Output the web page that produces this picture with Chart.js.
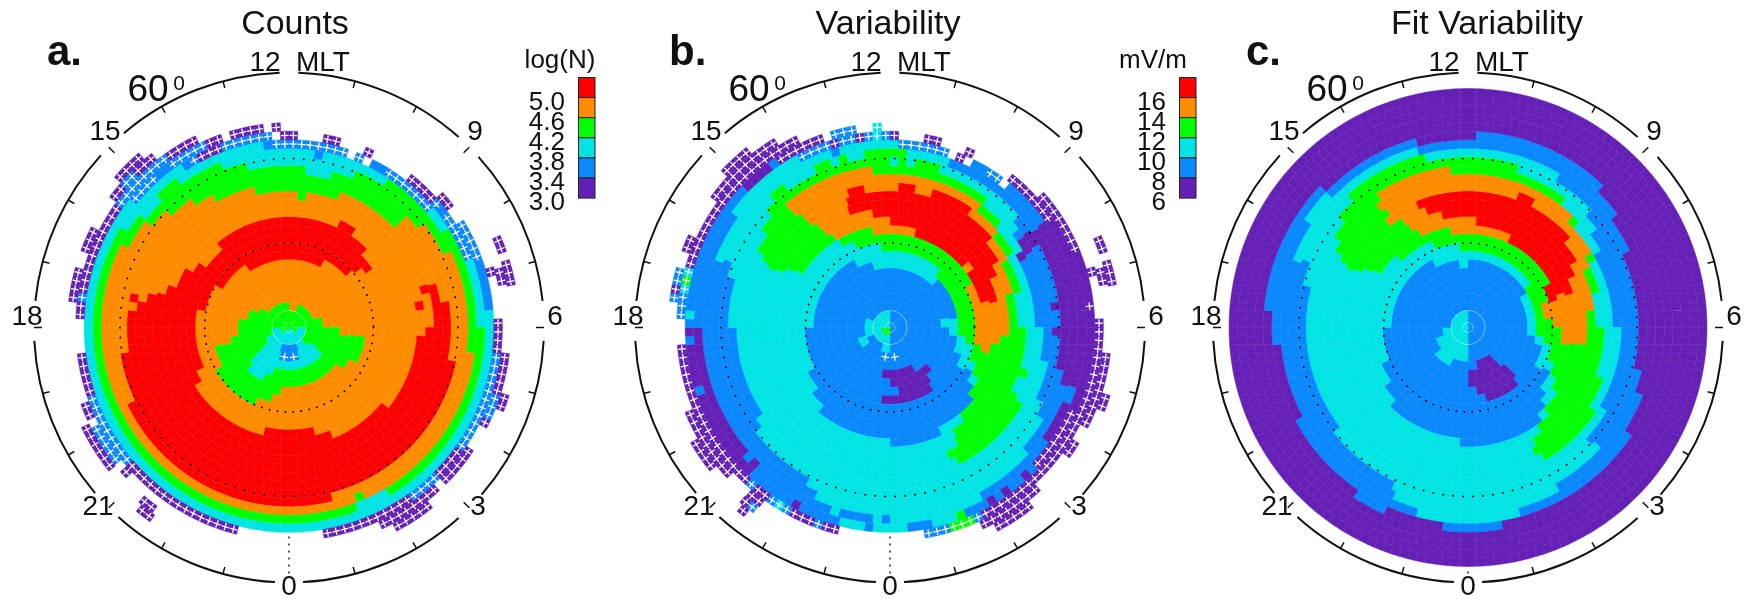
<!DOCTYPE html>
<html>
<head>
<meta charset="utf-8">
<title>Counts, Variability, Fit Variability</title>
<script src="https://cdn.jsdelivr.net/npm/chart.js@4"></script>
<style>
  html, body { margin: 0; background: #fff; overflow: hidden; }
  canvas { position: absolute; left: 0; top: 0; }
</style>
</head>
<body>
<canvas id="countsChart" width="1748" height="599"></canvas>
<canvas id="variabilityChart" width="1748" height="599"></canvas>
<canvas id="fitChart" width="1748" height="599"></canvas>
<script>
// tick labels
const mltLabels = ['12', 'MLT', '9', '6', '3', '0', '21', '18', '15'];
const countTicks = ['5.0', '4.6', '4.2', '3.8', '3.4', '3.0'];
const mvTicks = ['16', '14', '12', '10', '8', '6'];

// class codes: p purple, b blue, c cyan, g green, o orange, r red
// upper case = same class, cell marked with a white +
const classColors = { p: '#6420b6', b: '#0a88ff', c: '#00e4e4', g: '#00ff00', o: '#ff8c00', r: '#ff0000' };
const legendClasses = ['r', 'o', 'g', 'c', 'b', 'p'];

// each row: [class, ring from, ring to, from, to]
// ring = degrees from the pole (1 is next to the pole), from/to = hours clockwise from 12 MLT
// later rows go over earlier ones
const countCells = [
  // scattered low count cells
  ['P',24,24,23.65,23.85],['P',23,23,23.85,.2],['B',22,22,23.7,1.25],['P',23,23,.7,1],['B',22,22,1.45,1.6],['P',23,23,1.6,1.75],
  ['b',22,22,1.7,2.2],['B',22,22,2.2,2.6],['P',23,23,2.6,3.3],['B',22,22,2.6,3.3],['P',24,24,3.2,3.55],['B',23,23,3.3,4.6],
  ['B',24,24,3.9,4.65],['b',24,24,4.65,5.2],
  ['P',27,27,4.5,4.7],['P',27,27,4.85,5.3],['P',26,26,5,5.25],['P',25,25,4.95,5.1],
  ['P',25,25,5.9,6.55],['B',25,25,6.55,8.3],['P',26,26,6.4,7.2],['B',26,26,7.2,7.6],['P',26,26,7.6,7.8],['P',27,27,7.15,7.4],
  ['P',25,26,8.3,8.95],['B',25,25,8.95,9.6],['P',25,25,9.6,11.35],['P',26,26,9.2,10.4],['P',27,27,9.5,10.15],
  ['P',25,25,13,15.3],['P',26,26,15.1,15.3],['B',25,25,15.3,16.8],['P',25,25,16.8,17.6],['B',26,26,15.4,16.2],['P',26,26,16.3,16.6],
  ['P',27,27,15.5,16.25],['P',27,28,14.4,14.7],
  ['P',25,25,18.15,18.4],['B',25,25,18.4,18.7],['P',25,25,18.7,20.4],['P',26,26,18.4,19.1],['P',26,26,19.35,19.75],
  ['P',26,26,20.4,20.7],['B',25,25,20.4,21.7],['P',25,25,21.7,22.2],['B',24,24,20.6,22.4],['P',24,24,22.4,22.7],
  ['B',26,26,20.7,21],['P',27,27,20.7,21.35],['P',26,26,21,21.4],
  ['B',23,23,21.8,22.2],['P',23,23,22.2,22.7],['B',23,23,22.7,23.65],['P',24,24,22.9,23.55],
  // cyan
  ['c',1,21,23.5,3.3],['c',1,22,3.3,4.6],['c',1,23,4.6,5.6],['c',1,24,5.6,20.6],['c',1,23,20.6,21.8],['c',1,22,21.8,23.5],
  ['b',21,21,.5,.75],['b',22,22,23.5,23.7],['b',24,24,5.2,5.6],['b',24,24,21.3,21.5],['b',23,23,21.7,21.9],['b',23,23,3.45,3.65],
  // green
  ['g',1,19,23,.45],['g',1,18,.45,1.05],['g',1,19,1.05,1.5],['g',1,20,1.5,2.3],['g',1,21,2.3,3.8],['g',1,22,3.8,6.05],['g',1,23,6.05,20],
  ['g',1,22,20,20.5],['g',1,21,20.5,21],['g',1,22,21,21.5],['g',1,21,21.5,22.5],['g',1,20,22.5,23],
  ['c',23,23,10,10.6],
  // orange
  ['o',1,16,23.3,.2],['o',1,15,.2,.6],['o',1,16,.6,1.5],['o',1,17,1.5,3.05],['o',1,19,3.05,3.5],['o',1,20,3.5,4.4],['o',1,21,4.4,6.5],
  ['o',1,22,6.5,19.7],['o',1,21,19.7,20.5],['o',1,20,20.5,21],['o',1,19,21,21.6],['o',1,18,21.6,22],['o',1,17,22,23],['o',1,16,23,23.3],
  ['g',22,22,10.4,10.55],
  // red
  ['r',21,21,11,16.3],['r',20,20,6.7,17.5],['r',19,19,5.3,18.4],['r',19,19,18.65,18.8],['r',18,18,4.8,18.7],
  ['r',17,17,4.85,5.15],['r',17,17,5.95,18.95],['r',16,16,5.15,5.45],['r',16,16,6.2,19.1],['r',15,15,8.5,19.4],
  ['r',14,14,10.5,19.95],['r',14,14,1.6,2.4],['r',13,13,11.05,13.05],['r',13,13,15.85,20.4],['r',13,13,21.2,3.1],
  ['r',12,12,16.3,20.9],['r',12,12,21,3.6],['r',11,11,18.6,20.9],['r',11,11,21.1,3.55],['r',10,10,19.85,3.4],['r',9,9,21.6,1.9],
  // green patch round the pole
  ['g',10,10,13.6,16.2],['g',9,9,13,16.9],['g',9,9,6.6,8],['g',8,8,12.3,17.2],['g',8,8,6.6,8.4],['g',7,7,6.6,17.6],
  ['g',6,6,6.3,18.8],['g',5,5,6.1,19.4],['g',4,4,4.5,20.5],['g',3,3,.9,23.8],['g',1,2,0,24],
  ['c',1,1,9,15],['c',2,2,7.5,18.5],['c',3,3,9,17],['c',4,4,8,15.5],['c',5,5,9,15.5],['c',6,6,13.5,15.4],['c',7,7,14,15.1],
  ['b',2,2,11.4,12.6],['b',3,3,11,13],['B',4,4,10.4,13.6]
];

const variabilityCells = [
  // solid purple
  ['p',1,23,3.75,4.15],['p',1,24,4.15,7.6],['p',1,23,7.6,9],['p',1,24,15.2,17.5],['p',23,24,17.5,18],
  // blue
  ['b',1,21,1.25,2.6],['b',22,22,1.7,2.2],['b',1,22,2.6,3.75],['b',1,20,4.15,6.9],['b',1,21,6.9,7.2],['b',1,22,7.2,8.4],['b',23,23,7.2,7.5],
  ['b',1,23,8.4,9],['b',1,24,9,10.2],['b',1,24,13,15],['b',1,23,15,15.2],['b',1,22,15.2,17.5],['b',1,22,17.5,18],['b',1,24,18,21.7],['b',1,23,21.7,22.8],
  ['p',24,24,9.15,9.3],['p',24,24,9.5,9.65],['p',24,24,9.95,10.1],['p',24,24,13.85,14],['p',23,23,14.9,15.05],['p',24,24,15,15.2],
  ['b',24,24,16.7,16.85],['b',24,24,17.6,17.8],['p',24,24,20.9,21.5],['c',24,24,18.2,18.4],
  ['p',20,20,5.45,5.6],['p',20,20,6,6.1],
  // low count cells
  ['C',22,22,23.7,.25],['B',22,22,.25,1.25],['P',22,22,1.45,1.6],['P',23,23,1.6,1.75],['P',23,23,.7,1],['B',22,22,2.2,2.55],
  ['B',23,23,22,23],['P',23,23,22.85,23],['B',23,23,23,23.35],['P',23,23,23.3,23.5],['B',23,23,23.5,23.7],['C',23,23,23.65,23.85],
  ['B',23,23,23.85,.05],['P',23,23,.05,.25],['C',24,24,23.6,23.8],['B',24,24,22.9,23.35],
  ['P',23,23,2.6,3.75],['P',24,24,3.2,4.6],['P',24,24,5.55,5.65],
  ['P',25,25,5.9,8.4],['P',26,26,6.4,7.75],['P',26,26,8.05,8.4],['P',27,27,7.15,7.4],['P',24,24,7.6,9],
  ['P',27,27,4.5,4.7],['P',27,27,4.85,5.3],['P',26,26,5,5.25],['P',25,25,4.95,5.1],
  ['P',25,25,8.4,10.3],['P',26,26,9.2,10.3],['P',27,27,9.5,10.15],
  ['B',25,25,10.3,10.5],['G',25,25,10.5,10.9],['B',25,25,10.9,11.3],
  ['P',25,25,13,15],['B',25,25,13.25,13.42],['B',25,25,13.92,14.1],['C',25,25,14.1,14.25],['B',25,25,14.25,14.4],['B',25,25,14.7,14.9],
  ['P',26,27,14.4,14.7],['P',28,28,14.45,14.65],['B',27,27,14.5,14.6],
  ['P',25,25,15,17.7],['P',26,26,15.2,16.5],['P',27,27,15.5,16],
  ['B',25,25,18.1,18.6],['C',25,25,18.6,18.75],['G',25,25,18.8,18.95],['C',25,25,19,19.1],['B',26,26,18.4,18.55],['P',26,26,18.55,18.7],['B',26,26,18.7,19],
  ['P',25,25,19.1,20.4],['P',26,26,19.3,19.7],['P',25,26,20.4,21.9],['P',27,27,20.8,21.4],['P',24,25,21.7,22.3],['P',24,24,22.3,22.7],
  // cyan
  ['c',1,19,18,19.1],['c',1,20,19.1,19.5],['c',1,22,19.5,20.4],['c',1,23,20.4,22.1],['c',1,22,22.1,.25],['c',1,21,.25,1.25],['c',1,20,1.25,3.2],
  ['c',1,19,3.2,3.6],['c',1,18,3.6,4.1],['c',1,17,4.1,6.1],['c',1,18,6.1,6.9],['c',1,19,6.9,7.7],['c',1,20,7.7,8.1],['c',1,21,8.1,8.8],['c',1,22,8.8,10.2],
  ['c',1,24,10.2,13],['c',1,23,13,13.2],['c',1,22,13.2,13.6],['c',1,21,13.6,13.95],['c',1,20,13.95,15.4],['c',1,19,15.4,15.8],['c',1,18,15.8,18],
  ['b',22,22,22.7,22.9],['b',24,24,10.2,10.5],['g',24,24,10.5,10.75],['b',24,24,11.2,11.75],['b',24,24,12.4,12.55],
  ['b',23,23,11.95,12.1],['b',23,23,12.4,12.55],['b',23,23,12.6,13],
  // green
  ['g',21,21,21.2,21.6],['g',21,21,22.3,22.7],['g',21,21,22.85,23.05],['g',21,21,23.45,.4],
  ['g',20,20,20.95,.05],['g',20,20,.2,.45],['g',20,20,.65,1.1],['g',19,19,20.5,2.4],['g',18,18,20.1,3.1],['g',18,18,8.1,10.3],
  ['g',17,17,19.95,4],['g',17,17,7.1,7.5],['g',17,17,7.85,10.3],['g',16,16,19.85,5],['g',16,16,6,10.1],['g',15,15,19.75,9.8],
  ['g',14,14,19.9,9.3],['g',13,13,20.1,8.6],['g',12,12,21.9,7.95],['g',11,11,22.6,7.4],['g',10,10,23.5,6.8],['g',9,9,2.9,6.4],
  // orange
  ['o',19,19,21.35,23.5],['o',18,18,21.4,2.5],['o',17,17,21.5,3.2],['o',16,16,21.6,3.9],['o',15,15,21.7,5],['o',14,14,21.8,6.2],['o',14,14,6.45,6.6],
  ['o',13,13,21.85,6.7],['o',12,12,23.3,6.9],['o',11,11,4.2,6.6],
  // red
  ['r',17,17,22.75,23.35],['r',17,17,.27,.7],['r',17,17,1.2,2.4],['r',16,16,22.75,3.3],['r',15,15,22.7,3.9],['r',14,14,23.4,4.3],
  ['r',13,13,0,5.05],['r',12,12,1,3.2],['r',12,12,3.7,5],
  // inner blue disc
  ['b',1,8,23.9,.1],['b',1,7,.1,2.8],['b',1,8,2.8,5.4],['b',1,6,5.4,6],['b',1,7,6,6.5],['b',1,8,6.5,7.2],['b',1,9,7.2,8],['b',1,11,8,8.4],['b',1,12,8.4,8.8],
  ['b',1,13,8.8,10.2],['b',1,14,10.2,12],['b',1,13,12,14.6],['b',1,12,14.6,15.4],['b',1,11,15.4,16],['b',1,10,16,18.2],['b',1,9,18.2,22],['b',1,8,22,23.2],['b',1,7,23.2,23.9],
  ['c',8,8,17.35,17.55],['c',7,7,15.5,15.7],
  // low values under the pole
  ['p',6,6,10,12.6],['p',7,7,9.2,12],['p',8,8,9.4,11.6],['p',9,9,9.7,12.4],['p',3,3,10,10.5],
  ['c',1,2,18,24],['c',2,2,12,18],['g',1,1,12,17],['c',1,3,12,13],['c',3,3,16,19],['c',4,4,15.2,16.8],['c',5,5,12.5,13],
  ['B',4,4,10.4,13.6]
];

const fitCells = [
  ['p',1,28,0,24],
  // blue
  ['b',1,22,22.9,.15],['b',1,23,.15,2.9],['b',1,22,2.9,3.6],['b',1,21,3.6,4.35],['b',1,20,4.35,6.9],['b',1,21,6.9,7.5],['b',1,22,7.5,8.3],['b',1,23,8.3,11.3],
  ['b',1,24,11.3,12.5],['b',1,23,12.5,13.6],['b',1,24,13.6,14.3],['b',1,23,14.3,16.2],['b',1,22,16.2,17.6],['b',1,23,17.6,18.4],['b',1,24,18.4,21],['b',1,23,21,22.9],
  // cyan
  ['c',1,21,22.9,2.07],['c',1,20,2.07,3.16],['c',1,19,3.16,3.6],['c',1,18,3.6,4],['c',1,17,4,6.1],['c',1,18,6.1,8.16],['c',1,19,8.16,8.83],['c',1,21,8.83,10.1],
  ['c',1,22,10.1,10.9],['c',1,23,10.9,13.07],['c',1,22,13.07,13.6],['c',1,20,13.6,15.4],['c',1,19,15.4,19],['c',1,20,19,19.5],['c',1,22,19.5,20.2],['c',1,23,20.2,21],['c',1,22,21,22.9],
  // green
  ['g',21,21,21.2,23],['g',20,20,20.7,1.2],['g',19,19,20.2,2.4],['g',18,18,20,3.1],['g',18,18,8.3,10],['g',17,17,19.9,4.1],['g',17,17,7.5,10.1],
  ['g',16,16,19.75,5.1],['g',16,16,5.9,10.1],['g',15,15,19.85,9.75],['g',14,14,19.95,9.1],['g',13,13,20.2,8.3],['g',12,12,21,7.85],['g',11,11,22.4,7.4],['g',10,10,23.8,6.8],['g',9,9,3.9,6.6],
  // orange
  ['o',19,19,21.7,23.6],['o',18,18,21.6,3],['o',17,17,21.6,3.9],['o',16,16,21.5,4.3],['o',15,15,21.9,5.4],['o',14,14,22.1,6.5],['o',13,13,22.3,6.7],['o',12,12,23.5,6.6],['o',11,11,4,5.9],['o',10,10,5,5.8],
  // red
  ['r',17,17,1.4,1.9],['r',16,16,22.5,3.2],['r',15,15,22.6,3.8],['r',14,14,23.2,4.3],['r',13,13,.33,4.9],['r',12,12,1.7,4.7],['r',11,11,4,4.7],
  // inner blue disc
  ['b',1,8,.1,3.95],['b',1,7,3.95,6.5],['b',1,8,6.5,6.8],['b',1,9,6.8,8],['b',1,11,8,8.6],['b',1,12,8.6,9.1],['b',1,13,9.1,9.5],['b',1,14,9.5,12.25],['b',1,13,12.25,15.1],
  ['b',1,12,15.1,15.7],['b',1,11,15.7,16.5],['b',1,10,16.5,17.9],['b',1,9,17.9,22],['b',1,8,22,23.27],['b',1,7,23.27,.1],
  // low values under the pole
  ['c',1,3,12,12.5],['c',1,4,12.5,14],['c',1,5,14,15.6],['c',1,4,15.6,16.5],['c',1,3,16.5,18],['c',1,2,18,24],
  ['p',5,5,9.6,11],['p',6,6,9.3,11.95],['p',7,7,9,11.95],['p',8,8,8.9,11.5],['p',9,9,9.4,10.9]
];

const RING_COUNT = 28;
const PLOT_RADIUS = 239;
const AXIS_RADIUS = 255;

function inSpan(t, from, to) {
  return from <= to ? (t >= from && t < to) : (t >= from || t < to);
}

function cellCode(rows, ring, t) {
  let code = null;
  rows.forEach(row => {
    if (ring >= row[1] && ring <= row[2] && inSpan(t, row[3], row[4])) code = row[0];
  });
  return code;
}

// one doughnut ring per degree of latitude, first dataset is the outer one
function makeRings(rows) {
  const rings = [];
  for (let ring = RING_COUNT; ring >= 1; ring--) {
    const n = Math.max(8, 4 * Math.round(2 * Math.PI * (ring - 0.5) / 4));
    const codes = [];
    for (let j = 0; j < n; j++) codes.push(cellCode(rows, ring, (j + 0.5) * 24 / n));
    const colors = codes.map(c => c ? classColors[c.toLowerCase()] : 'rgba(0,0,0,0)');
    rings.push({
      data: codes.map(() => 1),
      codes: codes,
      backgroundColor: colors,
      borderColor: colors,   // same colour, hides most of the seams between cells
      borderWidth: 0.45
    });
  }
  return rings;
}

const hourAngle = t => (t * 15 - 90) * Math.PI / 180;

// axis breaks under the hour labels, in hours clockwise from 12 MLT
const axisBreaks = [[-0.14, 0.14], [2.78, 3.2], [5.6, 6.2], [8.73, 9.22], [11.79, 12.21], [14.8, 15.3], [17.8, 18.4], [20.83, 21.31]];
const labelOffsets = [[-24, -264], [34, -264], [186, -195], [266, -10], [189, 180], [0, 260], [-191, 180], [-262, -10], [-184, -195]];

const framePlugin = {
  id: 'frame',
  beforeDatasetsDraw(chart) {
    const ctx = chart.ctx;
    const a = chart.chartArea;
    const cx = (a.left + a.right) / 2, cy = (a.top + a.bottom) / 2;
    // dotted line below 0 MLT
    ctx.save();
    ctx.strokeStyle = '#222';
    ctx.lineWidth = 1.5;
    ctx.setLineDash([2, 5]);
    ctx.beginPath();
    ctx.moveTo(cx, cy + 209);
    ctx.lineTo(cx, cy + 250);
    ctx.stroke();
    ctx.restore();
  },
  afterDatasetsDraw(chart, args, opts) {
    const ctx = chart.ctx;
    const a = chart.chartArea;
    const cx = (a.left + a.right) / 2, cy = (a.top + a.bottom) / 2;
    ctx.save();

    // low count marks
    ctx.strokeStyle = '#fff';
    ctx.lineWidth = 1.3;
    chart.data.datasets.forEach((ds, i) => {
      chart.getDatasetMeta(i).data.forEach((arc, j) => {
        const code = ds.codes[j];
        if (!code || code !== code.toUpperCase()) return;
        const p = arc.getCenterPoint();
        const ang = (arc.startAngle + arc.endAngle) / 2;
        const ux = 3.8 * Math.cos(ang), uy = 3.8 * Math.sin(ang);
        ctx.beginPath();
        ctx.moveTo(p.x - ux, p.y - uy); ctx.lineTo(p.x + ux, p.y + uy);
        ctx.moveTo(p.x + uy, p.y - ux); ctx.lineTo(p.x - uy, p.y + ux);
        ctx.stroke();
      });
    });

    // circles round the pole
    ctx.strokeStyle = 'rgba(255,255,255,0.45)';
    ctx.lineWidth = 0.9;
    [5, 17].forEach(r => {
      ctx.beginPath();
      ctx.arc(cx, cy, r, 0, 2 * Math.PI);
      ctx.stroke();
    });

    // 70 and 80 degree circles
    ctx.strokeStyle = '#000';
    ctx.lineCap = 'round';
    ctx.lineWidth = 2;
    [[84.5, 8], [169, 10]].forEach(c => {
      ctx.setLineDash([0.01, c[1]]);
      ctx.beginPath();
      ctx.arc(cx, cy, c[0], 0, 2 * Math.PI);
      ctx.stroke();
    });
    ctx.setLineDash([]);
    ctx.lineCap = 'butt';

    // outer axis
    ctx.strokeStyle = '#111';
    ctx.lineWidth = 2;
    axisBreaks.forEach((b, i) => {
      const next = axisBreaks[(i + 1) % axisBreaks.length];
      ctx.beginPath();
      ctx.arc(cx, cy, AXIS_RADIUS, hourAngle(b[1]), hourAngle(i === axisBreaks.length - 1 ? 24 + next[0] : next[0]));
      ctx.stroke();
    });
    ctx.lineWidth = 1.5;
    for (let t = 1; t < 24; t++) {
      const ang = hourAngle(t);
      const inner = t % 3 === 0 ? AXIS_RADIUS - 8 : AXIS_RADIUS - 7;
      if (t === 12) continue;
      ctx.beginPath();
      ctx.moveTo(cx + inner * Math.cos(ang), cy + inner * Math.sin(ang));
      ctx.lineTo(cx + AXIS_RADIUS * Math.cos(ang), cy + AXIS_RADIUS * Math.sin(ang));
      ctx.stroke();
    }

    // text
    ctx.fillStyle = '#111';
    ctx.textAlign = 'center';
    ctx.textBaseline = 'middle';
    ctx.font = '28px "Liberation Sans"';
    mltLabels.forEach((s, i) => ctx.fillText(s, cx + labelOffsets[i][0], cy + labelOffsets[i][1]));
    ctx.font = '37px "Liberation Sans"';
    ctx.fillText('60', cx - 141, cy - 237);
    ctx.font = '21px "Liberation Sans"';
    ctx.fillText('0', cx - 110, cy - 243);
    ctx.font = '34px "Liberation Sans"';
    ctx.fillText(opts.title, opts.titleX, 25);
    ctx.textAlign = 'left';
    ctx.textBaseline = 'alphabetic';
    ctx.font = 'bold 42px "Liberation Sans"';
    ctx.fillText(opts.letter, opts.letterX, 65);

    // colour key
    if (opts.keyX) {
      ctx.font = '26px "Liberation Sans"';
      ctx.textAlign = 'center';
      ctx.fillText(opts.keyTitle, opts.keyTitleX, 68);
      ctx.textAlign = 'right';
      ctx.textBaseline = 'middle';
      opts.keyTicks.forEach((s, i) => ctx.fillText(s, opts.keyTickX, 103 + i * 20));
      ctx.strokeStyle = '#222';
      ctx.lineWidth = 1;
      legendClasses.forEach((c, i) => {
        ctx.fillStyle = classColors[c];
        ctx.fillRect(opts.keyX, 77.5 + i * 20.1, 17, 20.1);
        ctx.strokeRect(opts.keyX + 0.5, 77.5 + i * 20.1, 16.5, 20.1);
      });
    }
    ctx.restore();
  }
};

function drawPanel(id, rows, padding, frame) {
  new Chart(document.getElementById(id), {
    type: 'doughnut',
    data: { datasets: makeRings(rows) },
    plugins: [framePlugin],
    options: {
      responsive: false,
      animation: false,
      events: [],
      radius: PLOT_RADIUS,
      cutout: 0,
      layout: { padding: padding },
      plugins: { legend: { display: false }, tooltip: { enabled: false }, frame: frame }
    }
  });
}

drawPanel('countsChart', countCells, { left: 0, right: 1170, top: 56, bottom: 0 }, {
  title: 'Counts', titleX: 295, letter: 'a.', letterX: 47,
  keyX: 578, keyTitle: 'log(N)', keyTitleX: 560, keyTicks: countTicks, keyTickX: 565
});
drawPanel('variabilityChart', variabilityCells, { left: 32, right: 0, top: 56, bottom: 0 }, {
  title: 'Variability', titleX: 888, letter: 'b.', letterX: 669,
  keyX: 1179, keyTitle: 'mV/m', keyTitleX: 1153, keyTicks: mvTicks, keyTickX: 1166
});
drawPanel('fitChart', fitCells, { left: 1188, right: 0, top: 56, bottom: 0 }, {
  title: 'Fit Variability', titleX: 1487, letter: 'c.', letterX: 1246
});
</script>
</body>
</html>
